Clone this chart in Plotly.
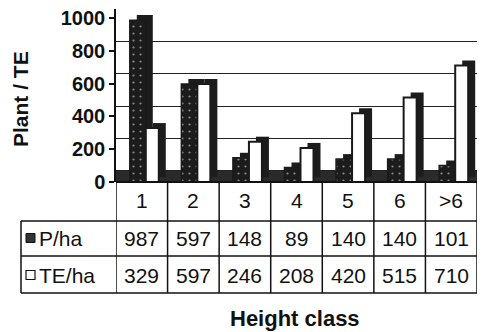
import plotly.graph_objects as go

categories = ["1", "2", "3", "4", "5", "6", ">6"]
p_ha = [987, 597, 148, 89, 140, 140, 101]
te_ha = [329, 597, 246, 208, 420, 515, 710]
series_names = ["P/ha", "TE/ha"]
y_ticks = [0, 200, 400, 600, 800, 1000]
y_title = "Plant / TE"
x_title = "Height class"

W, H = 484, 332
ml, mr, mt, mb = 116, 7, 9, 150
ph = H - mt - mb
pw = W - ml - mr
CATW = pw / len(categories)


def py(p):
    return (H - mb - p) / ph


def px(p):
    return (p - ml) / pw


def u(pix):
    # pixel distance -> category units
    return pix / CATW


FONT = "Liberation Sans, Arial, sans-serif"
xs = list(range(len(categories)))
DEPTH = 7  # px, horizontal depth of the 3D bars

dark_off, dark_w = u(-12), u(16)
white_off, white_w = u(4), u(13)

fig = go.Figure()
# back faces (scale "y2", slightly raised and shifted right) to fake the 3D extrusion
fig.add_trace(go.Bar(x=xs, y=p_ha, yaxis="y2", offset=dark_off + u(DEPTH), width=dark_w,
                     marker=dict(color="#1c1c1c", line=dict(width=0)),
                     showlegend=False, hoverinfo="skip"))
fig.add_trace(go.Bar(x=xs, y=te_ha, yaxis="y2", offset=white_off + u(DEPTH), width=white_w,
                     marker=dict(color="#1c1c1c", line=dict(width=0)),
                     showlegend=False, hoverinfo="skip"))
# front faces on the front scale "y3"
fig.add_trace(go.Bar(
    x=xs, y=p_ha, name=series_names[0], yaxis="y3", offset=dark_off, width=dark_w,
    marker=dict(color="#1e1e1e",
                pattern=dict(shape=".", fgcolor="#f4f4f4", bgcolor="#1c1c1c", size=7, solidity=0.08),
                line=dict(color="#1a1a1a", width=1.5)),
    showlegend=False, hoverinfo="skip"))
fig.add_trace(go.Bar(
    x=xs, y=te_ha, name=series_names[1], yaxis="y3", offset=white_off, width=white_w,
    marker=dict(color="white", line=dict(color="#1a1a1a", width=2)),
    showlegend=False, hoverinfo="skip"))

fig.update_layout(
    width=W, height=H, margin=dict(l=ml, r=mr, t=mt, b=mb),
    paper_bgcolor="white", plot_bgcolor="white",
    barmode="overlay",
    font=dict(family=FONT, color="#111"),
    xaxis=dict(range=[-0.5, len(categories) - 0.5], showticklabels=False, showgrid=False,
               zeroline=False, showline=False, ticks=""),
    # back wall scale (grid lines)
    yaxis=dict(range=[-68, 1000], tickvals=y_ticks, showticklabels=False,
               showgrid=True, gridcolor="#222", gridwidth=1, zeroline=False, showline=False,
               ticks=""),
    # bar back faces
    yaxis2=dict(range=[-30, 1024], overlaying="y", visible=False),
    # front scale with ticks
    yaxis3=dict(range=[0, 1055], overlaying="y", side="left", tickvals=y_ticks,
                ticktext=[f"<b>{v}</b>" for v in y_ticks],
                tickfont=dict(size=20, family=FONT, color="#111"), ticks="outside", ticklen=5,
                tickcolor="#111", tickwidth=1.5, showline=True, linecolor="#111", linewidth=1.5,
                showgrid=False, zeroline=False),
)

shapes = []
# floor of the 3D box
shapes.append(dict(type="rect", xref="paper", yref="y", x0=0, x1=1, y0=-68, y1=0,
                   fillcolor="#2a2a2a", line=dict(width=0), layer="below"))
lw = 1.5
col = "#111"
# table horizontal lines
shapes.append(dict(type="line", xref="paper", yref="paper", x0=0, x1=1, y0=py(182), y1=py(182),
                   line=dict(color=col, width=2)))
for yy in [221, 256, 293]:
    shapes.append(dict(type="line", xref="paper", yref="paper", x0=px(21), x1=1, y0=py(yy), y1=py(yy),
                       line=dict(color=col, width=lw)))
# table vertical lines
for k in range(len(categories) + 1):
    shapes.append(dict(type="line", xref="x", yref="paper", x0=k - 0.5, x1=k - 0.5,
                       y0=py(182), y1=py(293), line=dict(color=col, width=lw)))
shapes.append(dict(type="line", xref="paper", yref="paper", x0=px(21), x1=px(21),
                   y0=py(221), y1=py(293), line=dict(color=col, width=lw)))
# legend keys
shapes.append(dict(type="rect", xref="paper", yref="paper", x0=px(26), x1=px(35),
                   y0=py(242.5), y1=py(233.5), fillcolor="#333", line=dict(color=col, width=1)))
shapes.append(dict(type="rect", xref="paper", yref="paper", x0=px(26), x1=px(35),
                   y0=py(279.5), y1=py(270.5), fillcolor="white", line=dict(color=col, width=1.2)))

ann = []
tf = dict(family=FONT, size=21, color="#111")
common = dict(showarrow=False, yanchor="middle")
for i, c in enumerate(categories):
    ann.append(dict(x=i, y=py(200), xref="x", yref="paper", text=c, xanchor="center", font=tf, **common))
    ann.append(dict(x=i, y=py(238), xref="x", yref="paper", text=str(p_ha[i]), xanchor="center",
                    font=tf, **common))
    ann.append(dict(x=i, y=py(275), xref="x", yref="paper", text=str(te_ha[i]), xanchor="center",
                    font=tf, **common))
ann.append(dict(x=px(37), y=py(238), xref="paper", yref="paper", text=series_names[0], xanchor="left",
                font=tf, **common))
ann.append(dict(x=px(37), y=py(275), xref="paper", yref="paper", text=series_names[1], xanchor="left",
                font=tf, **common))
ann.append(dict(x=px(295), y=py(318), xref="paper", yref="paper", text=f"<b>{x_title}</b>",
                xanchor="center", font=dict(family=FONT, size=22, color="#111"), **common))
ann.append(dict(x=px(20), y=py(99), xref="paper", yref="paper", text=f"<b>{y_title}</b>",
                xanchor="center", textangle=-90, font=dict(family=FONT, size=21, color="#111"), **common))

fig.update_layout(shapes=shapes, annotations=ann)
fig.write_html("out.html", post_script="document.body.style.margin='0';",
               config={"displayModeBar": False})
